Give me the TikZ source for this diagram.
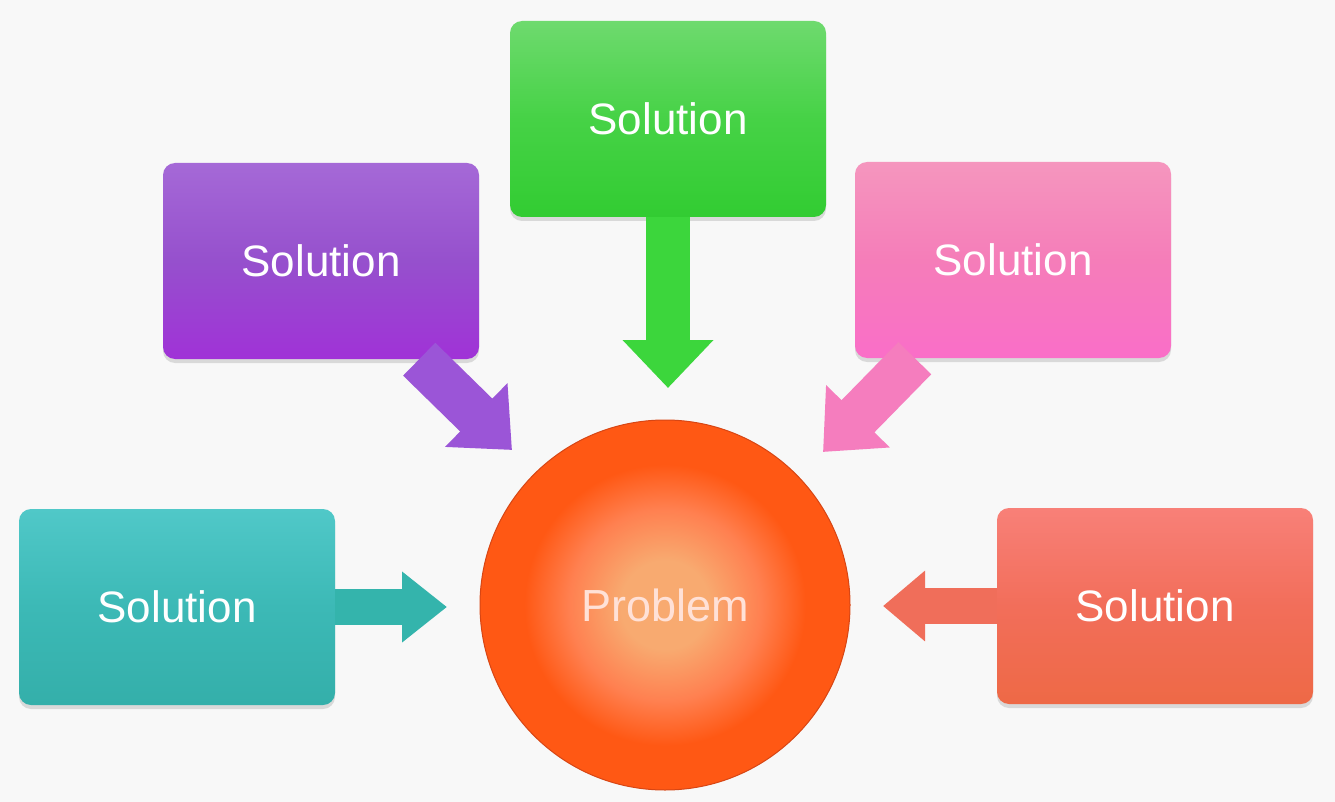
\documentclass[tikz,border=0pt]{standalone}
\usepackage{fontspec}
\setmainfont{Liberation Sans}
\usetikzlibrary{arrows.meta,shadows}
\definecolor{bg}{RGB}{248,248,248}
\definecolor{gtop}{RGB}{110,218,110}
\definecolor{gmid}{RGB}{70,210,70}
\definecolor{gbot}{RGB}{50,204,50}
\definecolor{ptop}{RGB}{165,105,215}
\definecolor{pmid}{RGB}{150,80,205}
\definecolor{pbot}{RGB}{160,50,215}
\definecolor{ktop}{RGB}{245,150,190}
\definecolor{kmid}{RGB}{245,125,185}
\definecolor{kbot}{RGB}{250,110,200}
\definecolor{ttop}{RGB}{80,200,200}
\definecolor{tmid}{RGB}{60,185,182}
\definecolor{tbot}{RGB}{52,175,170}
\definecolor{ctop}{RGB}{248,128,120}
\definecolor{cmid}{RGB}{242,110,90}
\definecolor{cbot}{RGB}{238,105,70}
\definecolor{garr}{RGB}{60,214,60}
\definecolor{parr}{RGB}{155,85,215}
\definecolor{karr}{RGB}{245,125,190}
\definecolor{tarr}{RGB}{52,180,172}
\definecolor{carr}{RGB}{240,110,90}
\definecolor{probin}{RGB}{248,170,112}
\definecolor{probmid}{RGB}{255,128,80}
\definecolor{probout}{RGB}{255,88,20}
\definecolor{probedge}{RGB}{215,70,20}
\definecolor{probtext}{RGB}{255,225,215}
\pgfdeclareradialshading{probshade}{\pgfpoint{0bp}{0bp}}{color(0bp)=(probin); color(6bp)=(probin); color(13bp)=(probmid); color(19bp)=(probout); color(25bp)=(probout); color(50bp)=(probout)}
\tikzset{
  solbox/.style={rounded corners=12pt, minimum width=316pt, minimum height=196pt,
    text=white, font=\fontsize{44}{50}\selectfont,
    drop shadow={shadow xshift=0pt, shadow yshift=-4pt, opacity=0.25}},
}
\begin{document}
\begin{tikzpicture}[x=1pt,y=-1pt]
\fill[bg] (0,0) rectangle (1335,802);
\useasboundingbox (0,0) rectangle (1335,802);
% boxes
\node[solbox, top color=gtop, bottom color=gbot, middle color=gmid] (green) at (668,119) {Solution};
\node[solbox, top color=ptop, bottom color=pbot, middle color=pmid] (purple) at (321,261) {Solution};
\node[solbox, top color=ktop, bottom color=kbot, middle color=kmid] (pink) at (1013,260) {Solution};
\node[solbox, top color=ttop, bottom color=tbot, middle color=tmid] (teal) at (177,607) {Solution};
\node[solbox, top color=ctop, bottom color=cbot, middle color=cmid] (coral) at (1155,606) {Solution};
% problem
\node[circle, minimum size=370pt, shading=probshade, draw=probedge, line width=1pt,
  text=probtext, font=\fontsize{45}{50}\selectfont] (prob) at (665,605) {Problem};
% arrow ends
\coordinate (gt) at (668,388);
\coordinate (pt) at (512,450);
\coordinate (kt) at (823,452);
\coordinate (tt) at (447,607);
\coordinate (ct) at (883,606);
\draw[garr, line width=44pt, -{Triangle[length=48pt,width=88pt]}] (green.south) -- (gt);
\draw[parr, line width=46pt, -{Triangle[length=50pt,width=86pt]}] (purple.-45) -- (pt);
\draw[karr, line width=46pt, -{Triangle[length=50pt,width=86pt]}] (pink.-135) -- (kt);
\draw[tarr, line width=36pt, -{Triangle[length=45pt,width=68pt]}] (teal.east) -- (tt);
\draw[carr, line width=36pt, -{Triangle[length=42pt,width=68pt]}] (coral.west) -- (ct);
\end{tikzpicture}
\end{document}
